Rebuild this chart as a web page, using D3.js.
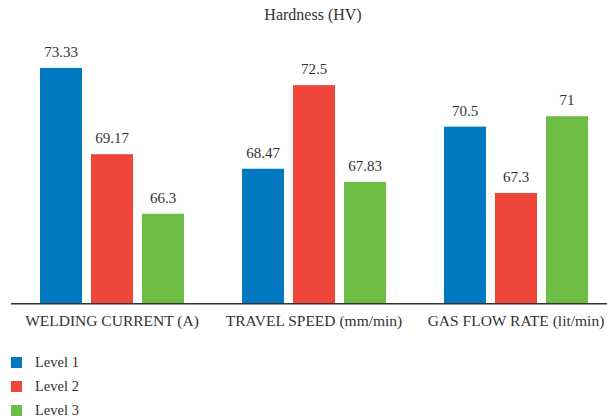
<!DOCTYPE html>
<html>
<head>
<meta charset="utf-8">
<script src="https://cdn.jsdelivr.net/npm/d3@7"></script>
<style>
  html, body { margin: 0; padding: 0; background: #fff; }
  svg { display: block; }
</style>
</head>
<body>
<svg id="chart" width="607" height="419"></svg>
<script>
const categories = ["WELDING CURRENT (A)", "TRAVEL SPEED (mm/min)", "GAS FLOW RATE (lit/min)"];
const levels = ["Level 1", "Level 2", "Level 3"];
const level1 = [73.33, 68.47, 70.5];
const level2 = [69.17, 72.5, 67.3];
const level3 = [66.3, 67.83, 71];
const colors = ["#0079c1", "#f0463a", "#6dbd45"];
const title = "Hardness (HV)";

const FONT = "'Liberation Serif', 'Times New Roman', 'DejaVu Serif', serif";
const series = [level1, level2, level3];
const data = categories.map((c, i) => ({
  cat: c,
  vals: levels.map((l, j) => ({ level: l, value: series[j][i], color: colors[j] }))
}));

const svg = d3.select("#chart");
const baseY = 303;

const x0 = d3.scaleBand().domain(categories).range([11, 617])
  .paddingInner(58 / 202).paddingOuter(29 / 202);
const x1 = d3.scaleBand().domain(levels).range([0, x0.bandwidth()])
  .paddingInner(9 / 51).paddingOuter(0);
const y = d3.scaleLinear().domain([62, 74]).range([baseY, 54]);

svg.append("text")
  .attr("x", 313).attr("y", 20)
  .attr("text-anchor", "middle")
  .attr("font-family", FONT).attr("font-size", 16).attr("fill", "#333")
  .text(title);

const g = svg.selectAll("g.group").data(data).join("g")
  .attr("class", "group")
  .attr("transform", d => `translate(${x0(d.cat)},0)`);

g.selectAll("rect").data(d => d.vals).join("rect")
  .attr("x", d => x1(d.level))
  .attr("y", d => y(d.value))
  .attr("width", x1.bandwidth())
  .attr("height", d => baseY - y(d.value))
  .attr("fill", d => d.color);

g.selectAll("text.val").data(d => d.vals).join("text")
  .attr("class", "val")
  .attr("x", d => x1(d.level) + x1.bandwidth() / 2)
  .attr("y", d => y(d.value) - 11)
  .attr("text-anchor", "middle")
  .attr("font-family", FONT).attr("font-size", 15).attr("fill", "#333")
  .text(d => String(d.value));

// x axis
const xAxis = d3.axisBottom(x0).tickSize(0).tickPadding(12);
const ax = svg.append("g").attr("transform", `translate(0,${baseY})`).call(xAxis)
  .attr("font-family", FONT).attr("font-size", 15.5);
ax.select(".domain").remove();
ax.selectAll("text").attr("fill", "#333");
svg.append("line")
  .attr("x1", 11).attr("x2", 607)
  .attr("y1", baseY + 0.75).attr("y2", baseY + 0.75)
  .attr("stroke", "#333").attr("stroke-width", 1.5);

// legend
const leg = svg.selectAll("g.leg").data(levels).join("g")
  .attr("class", "leg")
  .attr("transform", (d, i) => `translate(11,${357 + i * 24})`);
leg.append("rect").attr("width", 11).attr("height", 11)
  .attr("fill", (d, i) => colors[i]);
leg.append("text").attr("x", 24).attr("y", 9.5)
  .attr("font-family", FONT).attr("font-size", 14.5).attr("fill", "#333")
  .text(d => d);
</script>
</body>
</html>
